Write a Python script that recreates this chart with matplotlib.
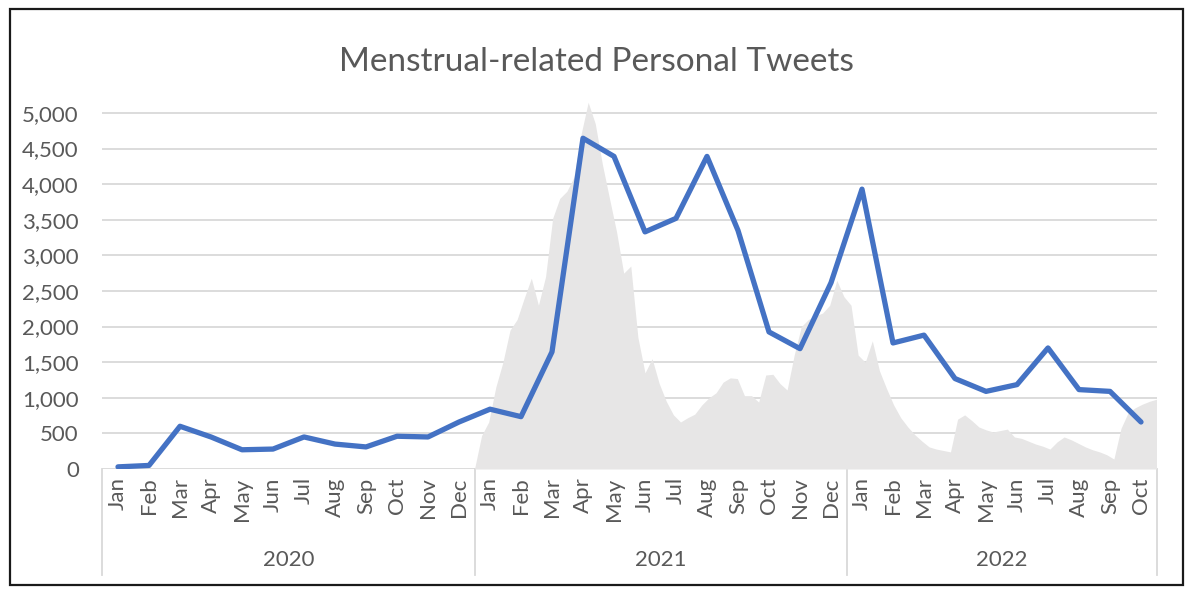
import numpy as np
import matplotlib
matplotlib.use("Agg")
import matplotlib.pyplot as plt
from matplotlib.patches import Rectangle
import matplotlib.transforms as mtransforms

# ---------------- data ----------------
months = ["Jan", "Feb", "Mar", "Apr", "May", "Jun", "Jul", "Aug", "Sep", "Oct", "Nov", "Dec"]
years = ["2020", "2021", "2022"]
month_labels = months * 2 + months[:10]

tweets = [30, 50, 600, 450, 270, 280, 450, 350, 310, 460, 450, 660,
          840, 735, 1645, 4645, 4390, 3330, 3520, 4390, 3350, 1925, 1690, 2615,
          3930, 1770, 1880, 1270, 1090, 1185, 1700, 1115, 1090, 660]

# finer-grained background series (weekly, Jan 2021 - Oct 2022)
background = [0, 470, 660, 1150, 1500, 1950, 2100, 2400, 2680, 2300,
              2700, 3520, 3800, 3900, 4100, 4700, 5150, 4850, 4280, 3800,
              3330, 2750, 2850, 1850, 1350, 1550, 1200, 950, 760, 660,
              720, 770, 900, 1000, 1070, 1220, 1280, 1270, 1030, 1030,
              940, 1320, 1330, 1200, 1110, 1600, 2000, 2100, 2150, 2190,
              2300, 2650, 2420, 2300, 1600, 1500, 1800, 1380, 1130, 900,
              720, 590, 480, 390, 310, 280, 260, 240, 700, 760,
              680, 590, 550, 520, 540, 560, 450, 430, 390, 350,
              320, 280, 380, 450, 410, 360, 310, 270, 240, 200,
              140, 570, 790, 860, 910, 950, 980]

yticks = [0, 500, 1000, 1500, 2000, 2500, 3000, 3500, 4000, 4500, 5000]

# ---------------- style ----------------
plt.rcParams['font.family'] = ['Lato', 'DejaVu Sans']
text_col = "#595959"
grid_col = "#d9d9d9"
blue = "#4472C4"
grey_fill = "#e7e6e6"

W, H = 1192, 599
fig = plt.figure(figsize=(W / 100, H / 100), dpi=100)

left_px, right_px = 102.5, 1156.5
bottom_px, top_px = 469, 91.6
ax = fig.add_axes([left_px / W, 1 - bottom_px / H,
                   (right_px - left_px) / W, (bottom_px - top_px) / H])

n = len(tweets)
x = np.arange(n)
xb = np.linspace(11.5, n - 0.5, len(background))

ax.fill_between(xb, 0, background, color=grey_fill, linewidth=0, zorder=1)
ax.plot(x, tweets, color=blue, linewidth=3.8, solid_capstyle='round',
        solid_joinstyle='round', zorder=3)

ax.set_xlim(-0.5, n - 0.5)
ax.set_ylim(0, 5300)
ax.set_yticks(yticks)
ax.set_yticklabels([f"{v:,}" for v in yticks], color=text_col, fontsize=16)
for v in yticks:
    ax.axhline(v, color=grid_col, linewidth=1.3, zorder=0.5)

for s in ax.spines.values():
    s.set_visible(False)
ax.tick_params(axis='y', length=0, pad=17)
ax.set_xticks(x)
ax.set_xticklabels(month_labels, rotation=90, color=text_col, fontsize=16,
                   va='top', ha='center')
ax.tick_params(axis='x', length=0, pad=6)

# category group separators and year labels
sep_bottom = -(575 - bottom_px) / (bottom_px - top_px)
trans = mtransforms.blended_transform_factory(ax.transData, ax.transAxes)
for xs in [-0.5, 11.5, 23.5, n - 0.5]:
    ax.plot([xs, xs], [0, sep_bottom], color=grid_col, linewidth=1.3,
            transform=trans, clip_on=False, zorder=0.5)
year_spans = [(-0.5, 11.5), (11.5, 23.5), (23.5, n - 0.5)]
year_y = -(560 - bottom_px) / (bottom_px - top_px)
for yr, (a, b) in zip(years, year_spans):
    ax.text((a + b) / 2, year_y, yr, transform=trans, ha='center', va='center',
            color=text_col, fontsize=16)

fig.text(0.5, 1 - 62 / H, "Menstrual-related Personal Tweets", ha='center',
         va='center', color=text_col, fontsize=24)

# outer border
fig.patches.append(Rectangle((10 / W, 1 - 585 / H), (1183 - 10) / W, (585 - 9) / H,
                             transform=fig.transFigure, fill=False,
                             edgecolor="#1a1a1a", linewidth=1.6))

fig.savefig("out.png", dpi=100)
